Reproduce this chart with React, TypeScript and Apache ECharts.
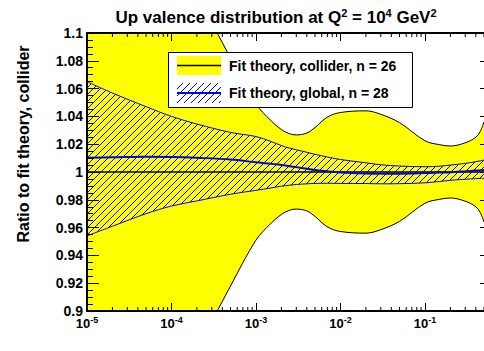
import React, { useEffect, useRef } from "react";
import * as echarts from "echarts";

// ---- data ----
const X_VALUES = [1e-5, 2e-5, 5e-5, 1e-4, 2e-4, 5e-4, 1e-3, 1.5e-3, 2e-3, 2.5e-3, 3e-3, 4e-3, 5e-3, 7e-3, 1e-2, 2e-2, 3e-2, 5e-2, 0.1, 0.15, 0.2, 0.3, 0.4, 0.45, 0.5];
const COLLIDER_UP = [1.28, 1.245, 1.198, 1.163, 1.128, 1.082, 1.049, 1.037, 1.0305, 1.0275, 1.0267, 1.028, 1.032, 1.0395, 1.0428, 1.044, 1.0415, 1.0355, 1.0225, 1.0196, 1.0187, 1.021, 1.025, 1.029, 1.036];
const COLLIDER_LO = [0.72, 0.755, 0.802, 0.837, 0.872, 0.918, 0.951, 0.963, 0.9695, 0.9725, 0.9733, 0.972, 0.968, 0.9605, 0.9572, 0.956, 0.9585, 0.9645, 0.9775, 0.9804, 0.9813, 0.979, 0.975, 0.971, 0.964];
const GLOBAL_UP = [1.065, 1.0568, 1.047, 1.04, 1.0345, 1.0285, 1.0255, 1.022, 1.019, 1.0172, 1.016, 1.0142, 1.0127, 1.0108, 1.009, 1.0066, 1.0052, 1.0043, 1.0038, 1.0042, 1.005, 1.0062, 1.0074, 1.008, 1.0086];
const GLOBAL_MID = [1.0103, 1.0106, 1.011, 1.0108, 1.0102, 1.009, 1.007, 1.006, 1.005, 1.0042, 1.0035, 1.0024, 1.0015, 1.0005, 0.9997, 0.9989, 0.9987, 0.9988, 0.9992, 0.9996, 0.9999, 1.0005, 1.001, 1.0012, 1.0014];
const GLOBAL_LO = [0.954, 0.961, 0.97, 0.9755, 0.9792, 0.984, 0.9868, 0.9885, 0.9898, 0.9905, 0.991, 0.9915, 0.9918, 0.9919, 0.9918, 0.9917, 0.9915, 0.9916, 0.9922, 0.9932, 0.994, 0.9948, 0.9952, 0.9954, 0.9955];
const REF_X = [1e-5, 0.5];
const REF_Y = [1, 1];
const MINOR_X = [
  2e-5, 3e-5, 4e-5, 5e-5, 6e-5, 7e-5, 8e-5, 9e-5,
  2e-4, 3e-4, 4e-4, 5e-4, 6e-4, 7e-4, 8e-4, 9e-4,
  2e-3, 3e-3, 4e-3, 5e-3, 6e-3, 7e-3, 8e-3, 9e-3,
  2e-2, 3e-2, 4e-2, 5e-2, 6e-2, 7e-2, 8e-2, 9e-2,
  0.2, 0.3, 0.4, 0.5,
];
const X_MIN = 1e-5;
const X_MAX = 0.5;
const Y_MIN = 0.9;
const Y_MAX = 1.1;
const Y_STEP = 0.02;

const TITLE_PARTS = ["Up valence distribution at Q", "2", " = 10", "4", " GeV", "2"];
const Y_TITLE = "Ratio to fit theory, collider";
const LEGEND_LABELS = ["Fit theory, collider, n = 26", "Fit theory, global, n = 28"];

const FONT = "'Liberation Sans', Arial, Helvetica, sans-serif";
const YELLOW = "#ffff00";
const BLUE = "#0000ff";

function makeHatch() {
  const s = 7;
  const c = document.createElement("canvas");
  c.width = s;
  c.height = s;
  const ctx = c.getContext("2d")!;
  ctx.fillStyle = BLUE;
  for (let i = 0; i < s; i++) ctx.fillRect(i, s - 1 - i, 1, 1);
  return c;
}

export default function App() {
  const ref = useRef<HTMLDivElement>(null);

  useEffect(() => {
    if (!ref.current) return;
    const chart = echarts.init(ref.current, null, { renderer: "svg" });
    const hatch = { image: makeHatch(), repeat: "repeat" };
    const pairs = (ys: number[]) => X_VALUES.map((x, i) => [x, ys[i]]);

    const lineBase = {
      type: "line",
      xAxisIndex: 0,
      yAxisIndex: 0,
      symbol: "none",
      showSymbol: false,
      smooth: 0.35,
      clip: true,
      silent: true,
    };

    const xAxisBase = {
      type: "log",
      logBase: 10,
      min: X_MIN,
      max: X_MAX,
      z: 10,
      splitLine: { show: false },
      axisLine: { show: true, onZero: false, lineStyle: { color: "#000", width: 2 } },
      axisTick: { show: true, inside: true, length: 8, lineStyle: { color: "#000", width: 1 } },
    };

    const titleRich = {
      t: { fontSize: 17, fontWeight: "bold", fontFamily: FONT, fill: "#000" },
      s: { fontSize: 11, fontWeight: "bold", fontFamily: FONT, fill: "#000", padding: [0, 0, 9, 0] },
    };
    const titleText = TITLE_PARTS.map((p, i) => (i % 2 === 0 ? `{t|${p}}` : `{s|${p}}`)).join("");

    const txt = (text: string, x: number, y: number) => ({
      type: "text",
      x,
      y,
      z: 100,
      style: { text, fontSize: 14, fontWeight: "bold", fontFamily: FONT, fill: "#000", align: "left", verticalAlign: "middle" },
    });

    const option: any = {
      animation: false,
      backgroundColor: "#ffffff",
      textStyle: { fontFamily: FONT },
      grid: { left: 87, top: 33, width: 397, height: 278, containLabel: false, outerBoundsMode: "none" },
      xAxis: [
        {
          ...xAxisBase,
          position: "bottom",
          axisLabel: {
            show: true,
            margin: 4,
            showMaxLabel: false,
            formatter: (v: number) => {
              const l = Math.log10(v);
              const e = Math.round(l);
              if (Math.abs(l - e) > 0.01) return "";
              return `{b|10}{s|${e}}`;
            },
            rich: {
              b: { fontSize: 13, fontWeight: "bold", color: "#000", fontFamily: FONT },
              s: { fontSize: 9, fontWeight: "bold", color: "#000", fontFamily: FONT, padding: [0, 0, 8, 0] },
            },
          },
        },
        { ...xAxisBase, position: "top", axisLabel: { show: false } },
      ],
      yAxis: [
        {
          type: "value",
          position: "left",
          min: Y_MIN,
          max: Y_MAX,
          interval: Y_STEP,
          z: 10,
          splitLine: { show: false },
          axisLine: { show: true, onZero: false, lineStyle: { color: "#000", width: 2 } },
          axisTick: { show: true, inside: true, length: 12, lineStyle: { color: "#000", width: 1 } },
          minorTick: { show: true, splitNumber: 4, length: 6, lineStyle: { color: "#000", width: 1 } },
          axisLabel: { show: true, margin: 4, color: "#000", fontSize: 14, fontWeight: "bold", fontFamily: FONT },
        },
        {
          type: "value",
          position: "right",
          min: Y_MIN,
          max: Y_MAX,
          interval: Y_STEP,
          z: 10,
          splitLine: { show: false },
          axisLine: { show: false },
          axisTick: { show: true, inside: true, length: 4, lineStyle: { color: "#000", width: 1 } },
          axisLabel: { show: false },
        },
      ],
      series: [
        { ...lineBase, data: pairs(COLLIDER_UP), lineStyle: { color: "#000", width: 1 }, areaStyle: { color: YELLOW, opacity: 1, origin: "start" } },
        { ...lineBase, data: pairs(GLOBAL_UP), lineStyle: { color: BLUE, width: 1 }, areaStyle: { color: hatch, opacity: 1, origin: "start" } },
        { ...lineBase, data: pairs(GLOBAL_LO), lineStyle: { color: BLUE, width: 1 }, areaStyle: { color: YELLOW, opacity: 1, origin: "start" } },
        { ...lineBase, data: pairs(COLLIDER_LO), lineStyle: { color: "#000", width: 1 }, areaStyle: { color: "#ffffff", opacity: 1, origin: "start" } },
        { ...lineBase, smooth: false, data: REF_X.map((x, i) => [x, REF_Y[i]]), lineStyle: { color: "#000", width: 1.5 } },
        { ...lineBase, data: pairs(GLOBAL_MID), lineStyle: { color: BLUE, width: 2 } },
        {
          type: "custom",
          xAxisIndex: 0,
          yAxisIndex: 0,
          silent: true,
          z: 11,
          data: MINOR_X.map((x) => [x, Y_MIN]),
          encode: { x: 0, y: 1 },
          renderItem: (_p: any, api: any) => {
            const x = api.value(0);
            const pb = api.coord([x, Y_MIN]);
            const pt = api.coord([x, Y_MAX]);
            const st = { stroke: "#000", lineWidth: 1 };
            return {
              type: "group",
              children: [
                { type: "line", shape: { x1: pb[0], y1: pb[1], x2: pb[0], y2: pb[1] - 4 }, style: st },
                { type: "line", shape: { x1: pt[0], y1: pt[1], x2: pt[0], y2: pt[1] + 4 }, style: st },
              ],
            };
          },
        },
      ],
      graphic: {
        elements: [
          {
            type: "text",
            x: 276,
            y: 17,
            z: 100,
            style: { text: titleText, rich: titleRich, align: "center", verticalAlign: "middle" },
          },
          {
            type: "text",
            x: 23,
            y: 144,
            rotation: Math.PI / 2,
            z: 100,
            style: { text: Y_TITLE, fontSize: 16, fontWeight: "bold", fontFamily: FONT, fill: "#000", align: "center", verticalAlign: "middle" },
          },
          { type: "rect", z: 100, shape: { x: 168.5, y: 52.5, width: 244, height: 55 }, style: { fill: "#fff", stroke: "#000", lineWidth: 1 } },
          { type: "rect", z: 101, shape: { x: 177, y: 56, width: 44, height: 19 }, style: { fill: YELLOW } },
          { type: "line", z: 102, shape: { x1: 177, y1: 65.5, x2: 221, y2: 65.5 }, style: { stroke: "#000", lineWidth: 1.5 } },
          txt(LEGEND_LABELS[0], 229, 66),
          { type: "rect", z: 101, shape: { x: 177, y: 83, width: 44, height: 20 }, style: { fill: hatch } },
          { type: "line", z: 102, shape: { x1: 177, y1: 93, x2: 221, y2: 93 }, style: { stroke: BLUE, lineWidth: 2 } },
          txt(LEGEND_LABELS[1], 229, 93),
        ],
      },
    };

    chart.setOption(option);
    return () => chart.dispose();
  }, []);

  return <div ref={ref} style={{ position: "fixed", left: 0, top: 0, width: 484, height: 351, background: "#fff" }} />;
}
